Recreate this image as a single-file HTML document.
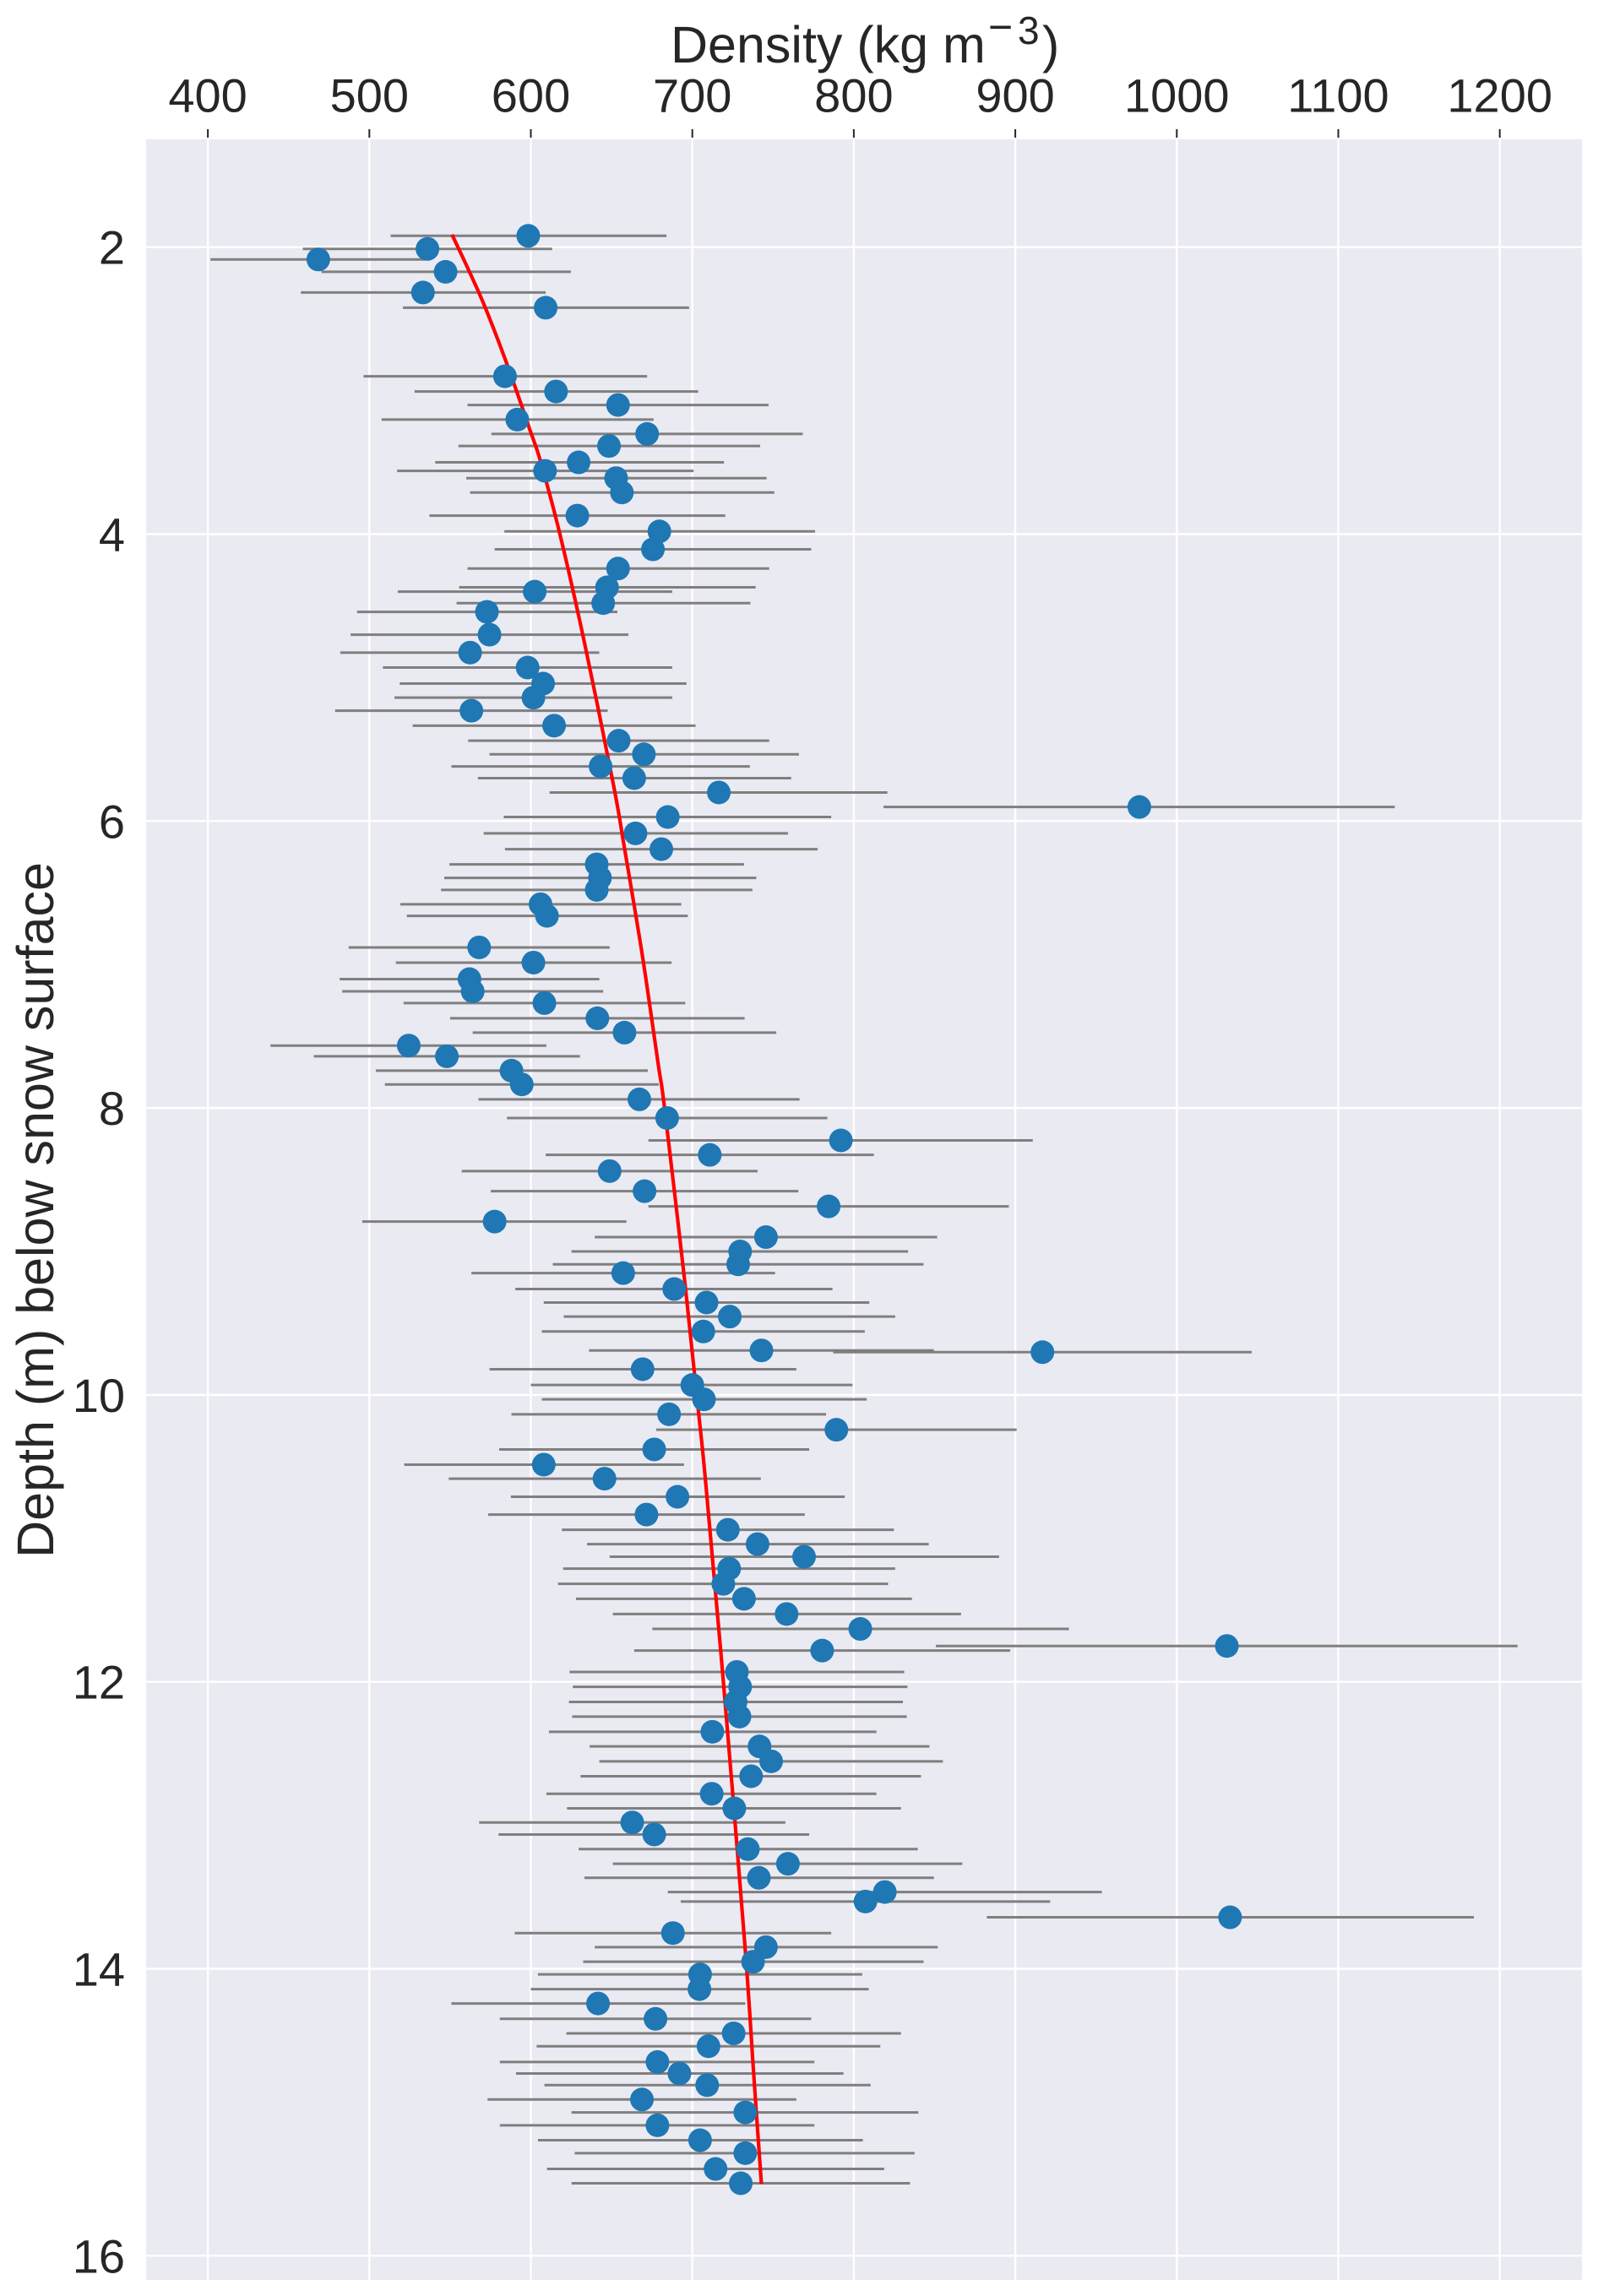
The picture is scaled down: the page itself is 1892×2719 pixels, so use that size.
<!DOCTYPE html>
<html lang="en">
<head>
<meta charset="utf-8">
<title>Density vs depth</title>
<style>
html,body{margin:0;padding:0;background:#fff;}
svg{display:block;}
text{font-family:"Liberation Sans",Arial,sans-serif;fill:#262626;}
</style>
</head>
<body>
<svg id="chart" xmlns="http://www.w3.org/2000/svg" width="1892" height="2719" viewBox="0 0 1892 2719">
  <rect x="0" y="0" width="1892" height="2719" fill="#ffffff"/>
  <rect x="173" y="165" width="1700" height="2535" fill="#eaeaf2"/>
  <g id="grid"></g>
  <g id="xticks"></g>
  <g id="yticks"></g>
  <g id="errors"></g>
  <path id="model" fill="none" stroke="#ff0000" stroke-width="4.2"></path>
  <g id="points"></g>
  <text x="794" y="74" font-size="61">Density (kg m<tspan x="1170" y="49" font-size="50">−</tspan><tspan x="1205" y="52" font-size="46">3</tspan><tspan x="1234" y="74" font-size="61">)</tspan></text>
  <text x="0" y="0" font-size="61" text-anchor="middle" transform="translate(63 1433) rotate(-90)">Depth (m) below snow surface</text>
</svg>
<script>
const xTickValues = [400,500,600,700,800,900,1000,1100,1200];
const yTickValues = [2,4,6,8,10,12,14,16];

const depth = [1.921,2.012,2.086,2.172,2.316,2.422,2.900,3.006,3.100,3.202,
3.302,3.386,3.500,3.559,3.610,3.710,3.871,3.981,4.106,4.240,
4.371,4.401,4.481,4.542,4.701,4.826,4.930,5.042,5.140,5.231,
5.335,5.440,5.535,5.619,5.701,5.801,5.902,5.972,6.086,6.196,
6.302,6.396,6.480,6.580,6.661,6.881,6.987,7.102,7.187,7.269,
7.375,7.475,7.565,7.640,7.740,7.836,7.940,8.070,8.226,8.327,
8.440,8.580,8.686,8.792,8.900,9.000,9.090,9.151,9.262,9.356,
9.454,9.558,9.690,9.702,9.821,9.931,10.031,10.135,10.243,10.380,
10.486,10.584,10.710,10.834,10.940,11.040,11.128,11.211,11.317,11.421,
11.527,11.631,11.750,11.782,11.931,12.035,12.140,12.242,12.348,12.450,
12.554,12.658,12.780,12.882,12.980,13.064,13.166,13.268,13.366,13.465,
13.531,13.641,13.751,13.849,13.951,14.039,14.142,14.242,14.349,14.450,
14.540,14.650,14.730,14.811,14.911,15.001,15.091,15.195,15.285,15.395,15.495];

const density = [598.4,536,468.4,547.2,533.2,609.2,584,615.6,654,591.6,
672,648.4,629.6,608.8,652.8,656.4,628.8,679.6,675.6,654,
647.2,602.4,644.8,572.8,574.4,562.4,598,607.6,601.6,563.2,
614.4,654.4,670,643.2,664,716.4,976.8,684.8,664.8,680.8,
640.8,642.8,640.8,606,610,568,601.6,562,564,608.4,
641.2,658,524.4,548,588,594.4,667.2,684.4,792,710.8,
648.8,670.4,784.4,577.6,745.6,729.6,728.4,657.2,688.8,708.8,
723.2,706.8,742.8,916.8,669.2,700,707.2,685.6,789.2,676.4,
608,645.6,690.8,671.6,722,740.4,769.2,722.8,719.2,732,
758.4,804,1031,780.4,727.6,729.6,726.8,729.2,712.4,741.6,
748.8,736.4,712,726,662.8,676.4,734.4,759.2,741.2,819.2,
807.2,1033,688,745.6,737.6,704.8,704.4,641.6,677.2,725.6,
710,678.4,692,709.2,668.8,732.8,678.4,704.8,732.8,714.4,730];

const densityLow = [513.2,458.8,401.6,470.4,457.6,520.8,496.4,528,560.8,507.6,
575.6,555.2,540.8,517.2,560,562.4,537.2,583.6,577.6,560.8,
555.6,517.6,554,492.4,488.4,482,508.4,518.8,515.6,478.8,
526.8,561.2,574.4,550.8,567.2,611.6,818.4,583.2,570.8,584,
549.6,546.4,544.4,519.2,523.2,487.2,516.4,481.6,483.2,521.2,
550,564,438.8,465.6,504,509.6,567.6,585.2,672.8,609.2,
557.2,575.2,672.8,495.6,639.6,625.2,613.6,563.2,590.4,608,
620.4,606.8,636,787.2,574.4,600,606.8,588,677.6,580.4,
521.6,549.2,587.6,573.6,619.2,634.8,648.8,620,616.8,628,
650.8,675.2,850.8,664,624,626,623.6,625.6,611.2,636.4,
642.4,630.8,609.6,622.4,568,580,629.6,650.8,633.2,684.8,
692.8,882.4,590,639.6,632.4,604.4,600,550.8,580.8,622,
603.6,580.8,590.8,608.4,573.2,625.2,580.8,604.4,627.2,610,625.2];

const densityHigh = [684,613.2,535.2,624.8,609.2,698,672,703.6,747.2,676,
768.4,742,719.6,700.8,746,750.8,720.4,776,773.6,747.6,
739.2,687.6,736,653.6,660.4,642.4,687.6,696.4,687.6,647.6,
702,747.6,766,735.6,761.2,820.8,1135,786,759.2,777.6,
732,739.6,737.2,693.2,697.2,648.8,687.2,642.4,644.8,695.6,
732.4,752,609.6,630.4,672.4,679.2,766.4,783.6,910.8,812.4,
740.4,765.6,896,659.2,851.6,833.6,843.2,751.2,786.8,809.6,
825.6,806.8,849.6,1046.4,764.4,799.2,808,782.8,900.8,772.4,
694.8,742.4,794.4,769.6,824.8,846.4,890,825.6,821.2,836,
866.4,933.2,1211,896.8,831.2,833.2,830.4,832.8,814,846.8,
855.2,841.6,814,829.2,757.6,772.4,839.6,867.2,849.6,953.6,
921.6,1184,786,852,843.2,805.2,809.2,732.8,773.6,829.2,
816.4,775.6,793.6,810.4,764.4,840,775.6,805.6,837.6,818.8,834.8];

const modelDepth = [1.913,2.172,2.422,2.808,3.275,3.494,4.0,4.746,5.75,6.217,6.947,7.689,7.999,9.16,10.135,10.63,12.1,13.87,14.736,15.50];
const modelDensity = [551.2,562,571.8,585,599.5,606,618,633,651.2,658.4,669.2,678.8,682.8,694.8,704,708.4,720,732.8,738,742.8];

const xScale = v => 246.1 + (v - 400) * 1.912;
const yScale = d => 292.7 + (d - 2) * 169.9;
const plot = {left: 173, right: 1873, top: 165, bottom: 2700};
const NS = 'http://www.w3.org/2000/svg';
function make(tag, parent, attrs) {
  const el = document.createElementNS(NS, tag);
  for (const k in attrs) el.setAttribute(k, attrs[k]);
  parent.appendChild(el);
  return el;
}
const grid = document.getElementById('grid');
const xticks = document.getElementById('xticks');
const yticks = document.getElementById('yticks');
const errors = document.getElementById('errors');
const points = document.getElementById('points');

xTickValues.forEach(v => {
  const x = xScale(v);
  const g = make('line', grid, {x1: x, x2: x, y1: plot.top, y2: plot.bottom, stroke: '#ffffff', 'stroke-width': 2.4});
  
  
  const t = make('line', xticks, {x1: x, x2: x, y1: 153, y2: 163, stroke: '#262626', 'stroke-width': 2});
  
  
  const l = make('text', xticks, {x: x, y: 132.5, 'font-size': 56, 'text-anchor': 'middle'});
  
  
  l.textContent = String(v);
});
yTickValues.forEach(d => {
  const y = yScale(d);
  const g = make('line', grid, {x1: plot.left, x2: plot.right, y1: y, y2: y, stroke: '#ffffff', 'stroke-width': 2.4});
  
  
  const l = make('text', yticks, {x: 148, y: y + 20, 'font-size': 56, 'text-anchor': 'end'});
  
  
  l.textContent = String(d);
});
depth.forEach((d, i) => {
  const y = yScale(d);
  const e = make('line', errors, {x1: xScale(densityLow[i]), x2: xScale(densityHigh[i]), y1: y, y2: y, stroke: '#7f7f7f', 'stroke-width': 3});
  
  
  const c = make('circle', points, {cx: xScale(density[i]), cy: y, r: 14, fill: '#1f77b4'});
  
  
});
const modelPts = modelDepth.map((d, i) => [xScale(modelDensity[i]), yScale(d)]);
let modelPath = 'M' + modelPts[0][0].toFixed(1) + ' ' + modelPts[0][1].toFixed(1);
for (let i = 0; i < modelPts.length - 1; i++) {
  const p0 = modelPts[Math.max(i - 1, 0)], p1 = modelPts[i], p2 = modelPts[i + 1], p3 = modelPts[Math.min(i + 2, modelPts.length - 1)];
  const c1x = p1[0] + (p2[0] - p0[0]) / 6, c1y = p1[1] + (p2[1] - p0[1]) / 6;
  const c2x = p2[0] - (p3[0] - p1[0]) / 6, c2y = p2[1] - (p3[1] - p1[1]) / 6;
  modelPath += ' C' + [c1x, c1y, c2x, c2y, p2[0], p2[1]].map(n => n.toFixed(1)).join(' ');
}
document.getElementById('model').setAttribute('d', modelPath);
</script>
</body>
</html>
